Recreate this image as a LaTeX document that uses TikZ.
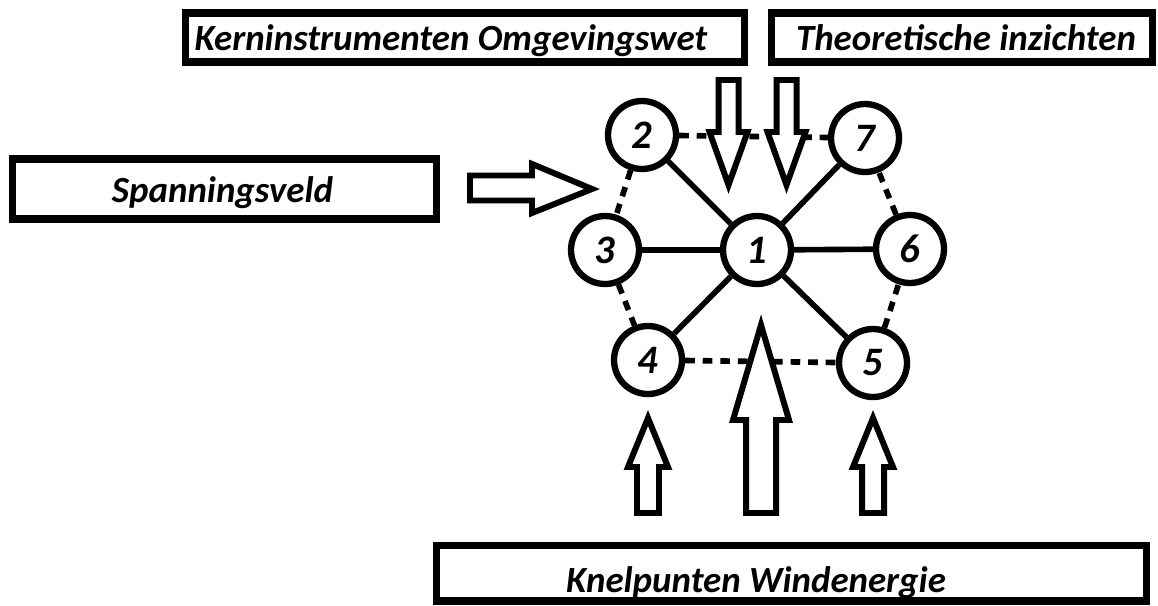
\documentclass[tikz,border=0pt]{standalone}
\usepackage{fontspec}
\setmainfont{Carlito}

\begin{document}
\begin{tikzpicture}[x=0.02cm,y=-0.02cm,
  font=\fontsize{21}{25}\selectfont\bfseries\itshape,
  frame/.style={draw,line width=4pt,inner sep=0pt},
  spot/.style={circle,draw,fill=white,line width=3.6pt,inner sep=0pt,
    minimum size=1.36cm,font=\fontsize{23}{27}\selectfont\bfseries\itshape},
  spoke/.style={line width=3.2pt},
  ring/.style={line width=3.2pt,dash pattern=on 5.5pt off 4.5pt},
  blockarrow/.style={draw,fill=white,line width=3.4pt,line join=miter}]
  \useasboundingbox (0,0) rectangle (1158,605);

  % frames and their texts
  \node[frame,minimum width=11.2cm,minimum height=0.98cm] (kernbox) at (465,37.5) {};
  \node[anchor=base] (kerntxt) at (451,50) {Kerninstrumenten Omgevingswet};
  \node[frame,minimum width=7.64cm,minimum height=0.98cm] (theobox) at (962,37.5) {};
  \node[anchor=base] (theotxt) at (966,50) {Theoretische inzichten};
  \node[frame,minimum width=8.5cm,minimum height=1.2cm] (spanbox) at (224.5,189) {};
  \node[anchor=base] (spantxt) at (222.5,202) {Spanningsveld};
  \node[frame,minimum width=14.22cm,minimum height=1.12cm] (knelbox) at (791.5,573) {};
  \node[anchor=base] (kneltxt) at (756,592) {Knelpunten Windenergie};

  % the seven spots
  \foreach \n/\x/\y in {1/757/250,2/642/135,3/605/250,4/648/360,5/873/363,6/910/249,7/865/138}
    \node[spot] (s\n) at (\x,\y) {\n};

  \foreach \n in {2,...,7}
    \draw[spoke] (s1) -- (s\n);
  \foreach \a/\b in {2/7,2/3,3/4,4/5,5/6,6/7}
    \draw[ring] (s\a) -- (s\b);

  % block arrows
  \draw[blockarrow] (470,175.5) -- (532,175.5) -- (532,164) -- (592,189)
    -- (532,213) -- (532,200.5) -- (470,200.5) -- cycle;
  \foreach \cx in {728.5,786.5}
    \draw[blockarrow] (\cx-10,80) -- (\cx+10,80) -- (\cx+10,132) -- (\cx+19,132)
      -- (\cx,185) -- (\cx-19,132) -- (\cx-10,132) -- cycle;
  \foreach \cx in {648,873}
    \draw[blockarrow] (\cx-11,513) -- (\cx+11,513) -- (\cx+11,467) -- (\cx+20,467)
      -- (\cx,418) -- (\cx-20,467) -- (\cx-11,467) -- cycle;
  \draw[blockarrow] (746,513) -- (776,513) -- (776,420) -- (789,420)
    -- (761,325) -- (733,420) -- (746,420) -- cycle;
\end{tikzpicture}
\end{document}
